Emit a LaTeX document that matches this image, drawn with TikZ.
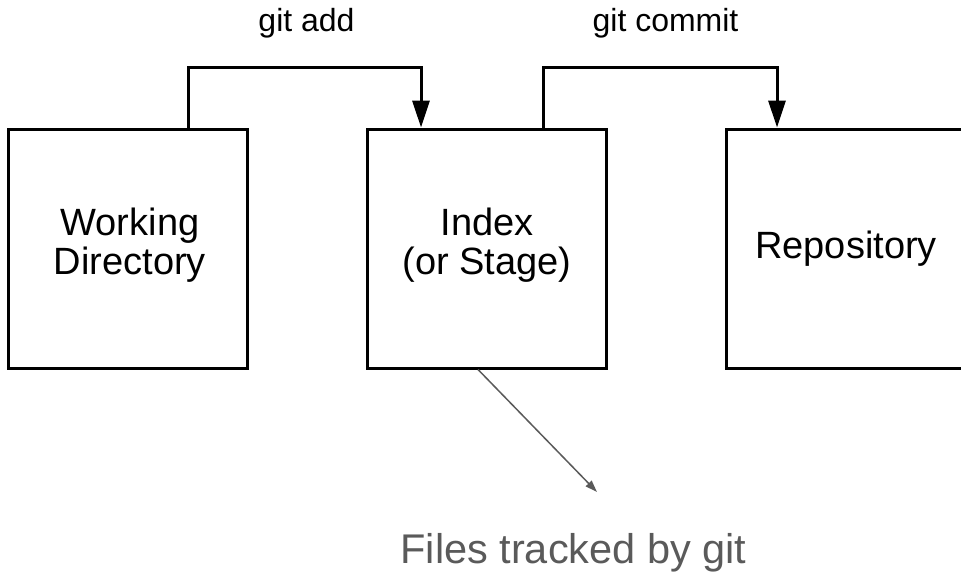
\documentclass[tikz,border=0pt]{standalone}
\usepackage{fontspec}
\setmainfont{Liberation Sans}
\usetikzlibrary{arrows.meta}
\definecolor{notegray}{HTML}{5A5A5A}
\tikzset{
  stage/.style={draw=black, line width=3pt, minimum width=239pt, minimum height=239pt, inner sep=0pt},
  boxtext/.style={align=center, inner sep=0pt, font=\fontsize{38}{39}\selectfont, text=black},
  cmdlabel/.style={inner sep=0pt, font=\fontsize{32}{36}\selectfont, text=black},
  flow/.style={line width=3pt, -{Triangle[length=27pt,width=17pt]}},
  note/.style={draw=notegray, line width=1.5pt, -{Triangle[length=12pt,width=8pt]}},
  notetext/.style={inner sep=0pt, font=\fontsize{41.5}{46}\selectfont, text=notegray}
}
\begin{document}
\begin{tikzpicture}[x=1pt, y=-1pt]
  \useasboundingbox (0,0) rectangle (961,579);
  % boxes
  \node[stage] (wd)   at (128,248.5) {};
  \node[stage] (idx)  at (486.5,248.5) {};
  \node[stage] (repo) at (846,248.5) {};
  % box texts
  \node[boxtext] (wdt)   at (130,244.7) {Working\\Directory};
  \node[boxtext] (idxt)  at (487,244.7) {Index\\(or Stage)};
  \node[boxtext] (repot) at (846,248.2) {Repository};
  % command labels
  \node[cmdlabel, anchor=base] (addl) at (306.5,31.5) {git add};
  \node[cmdlabel, anchor=base] (coml) at (665.5,31.5) {git commit};
  % connector corners
  \coordinate (a1) at (188,67);
  \coordinate (a2) at (421,67);
  \coordinate (c1) at (543,67);
  \coordinate (c2) at (777,67);
  \draw[flow] (wd.north -| a1) -- (a1) -- (a2) -- (idx.north -| a2);
  \draw[flow] (idx.north -| c1) -- (c1) -- (c2) -- (repo.north -| c2);
  % note
  \coordinate (ntip) at (597,492);
  \node[notetext, anchor=base] (notel) at (573.5,563) {Files tracked by git};
  \draw[note] (idx.south -| 478,0) -- (ntip);
\end{tikzpicture}
\end{document}
